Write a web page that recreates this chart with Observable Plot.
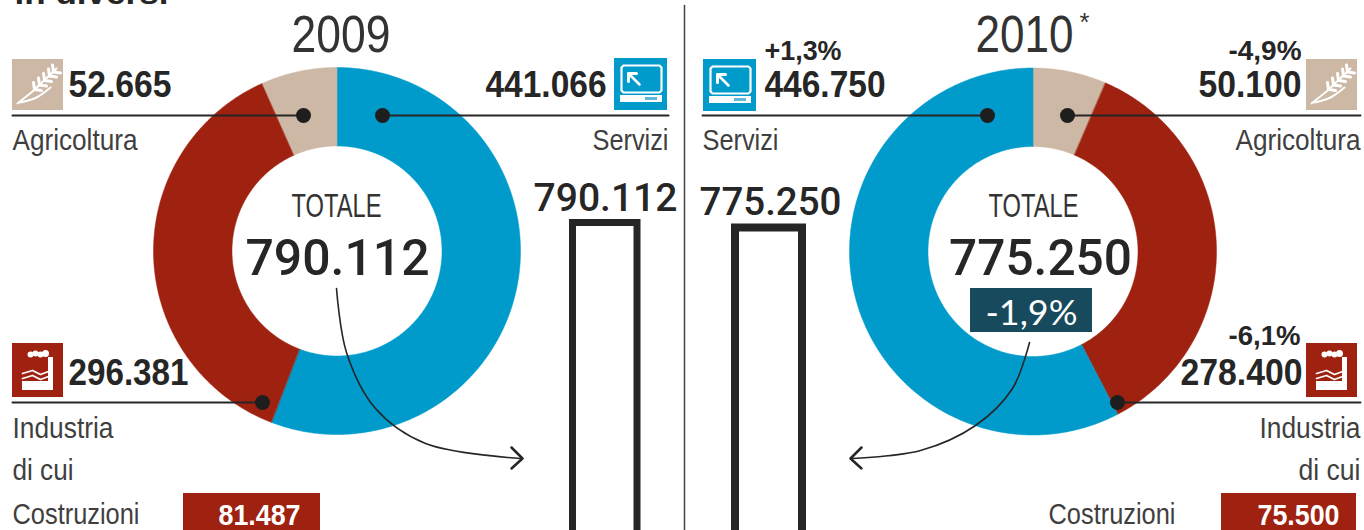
<!DOCTYPE html>
<html><head><meta charset="utf-8">
<script src="https://cdn.jsdelivr.net/npm/d3@7"></script>
<script src="https://cdn.jsdelivr.net/npm/@observablehq/plot@0.6"></script>
<style>
html,body{margin:0;padding:0;background:#fff;overflow:hidden}
svg{display:block}
</style>
</head><body><script>
const sectors = ["Servizi", "Industria", "Agricoltura"];
const values2009 = [441066, 296381, 52665];
const values2010 = [446750, 278400, 50100];
const changes2010 = ["+1,3%", "-6,1%", "-4,9%"];
const totals = [790112, 775250];
const costruzioni = [81487, 75500];
const totalChange = "-1,9%";
const years = ["2009", "2010"];
const sliceColors = ["#009bcb", "#9f2110", "#cdb8a5"];

const it = d3.format(",");
const fmt = v => it(v).replace(/,/g, ".");
const ink = "#262626", grey = "#3f3f3f";
const sans = "'Liberation Sans',sans-serif";

function slicePoints(cx, cy, R, r, value, before, total, rot) {
  const a0 = (before / total) * 360 + rot, a1 = ((before + value) / total) * 360 + rot;
  const n = Math.ceil(a1 - a0) * 2;
  const pts = [];
  const at = (a, q) => ({x: cx + q * Math.sin(a * Math.PI / 180), y: cy - q * Math.cos(a * Math.PI / 180)});
  for (let i = 0; i <= n; i++) pts.push(at(a0 + (a1 - a0) * i / n, R));
  for (let i = n; i >= 0; i--) pts.push(at(a0 + (a1 - a0) * i / n, r));
  return pts;
}
function donut(cx, cy, R, r, order, values, total, rot) {
  let before = 0;
  return order.map(i => {
    const m = Plot.line(slicePoints(cx, cy, R, r, values[i], before, total, rot),
      {x: "x", y: "y", curve: "linear-closed", fill: sliceColors[i], stroke: sliceColors[i], strokeWidth: .5});
    before += values[i];
    return m;
  });
}
// w is the width the text is condensed to (the reference uses a condensed face)
const T = (t, x, y, w, o = {}) => Plot.text([{t, x, y}], {
  x: "x", y: "y", text: "t", lineAnchor: "bottom", textAnchor: "start", dy: -1,
  fontFamily: sans, fontSize: 30, fill: grey, ariaLabel: () => "fit:" + w, ...o});
const num = (t, x, y, w, anchor = "start") => T(t, x, y, w, {fontSize: 36, fontWeight: 700, fill: ink, textAnchor: anchor});
const chg = (t, x, y, w) => T(t, x, y, w, {fontSize: 27, fontWeight: 700, fill: ink, textAnchor: "end"});
const lab = (t, x, y, w, anchor = "start") => T(t, x, y, w, {textAnchor: anchor});
const box = (x1, y1, x2, y2, fill) => Plot.rect([{x1, y1, x2, y2}], {x1: "x1", y1: "y1", x2: "x2", y2: "y2", fill});
const seg = (pts, o = {}) => Plot.line(pts.map(([x, y]) => ({x, y})), {x: "x", y: "y", stroke: "#262626", strokeWidth: 2, ...o});
const dot = (x, y) => Plot.dot([{x, y}], {x: "x", y: "y", r: 7.5, fill: "#1e1e1e", stroke: "none"});
const blob = (x, y, r, fill = "#fff") => Plot.dot([{x, y}], {x: "x", y: "y", r, fill, stroke: "none"});

function wheat(ox, oy) {
  const p = (x, y) => [ox + x, oy + y], w = {stroke: "#fff", strokeWidth: 2};
  const grains = [[22, 30], [27, 25.5], [32, 21], [37, 16.5], [41, 12.5]];
  return [
    box(ox, oy, ox + 51, oy + 51, sliceColors[2]),
    seg([p(5, 44), p(20, 32), p(44, 9)], w),
    seg([p(8, 43), p(24, 38), p(38, 28)], {...w, curve: "catmull-rom"}),
    ...grains.flatMap(([x, y]) => [
      seg([p(x, y), p(x - 1, y - 7)], {...w, strokeWidth: 3}),
      seg([p(x, y), p(x + 7, y + 1)], {...w, strokeWidth: 3})
    ])
  ];
}
function monitor(ox, oy) {
  const p = (x, y) => [ox + x, oy + y], w = {stroke: "#fff", strokeWidth: 2.2};
  return [
    box(ox, oy, ox + 53, oy + 52, sliceColors[0]),
    seg([p(9, 7), p(45, 7), p(47, 9), p(47, 32), p(45, 34), p(9, 34), p(7, 32), p(7, 9), p(9, 7)], w),
    seg([p(14, 15), p(25, 26)], {...w, strokeWidth: 2.5}),
    seg([p(14, 23), p(14, 15), p(22, 15)], {...w, strokeWidth: 3}),
    box(ox + 6, oy + 37, ox + 48, oy + 44, "#fff"),
    box(ox + 31, oy + 39, ox + 43, oy + 42, "#5fb9dc")
  ];
}
function factory(ox, oy) {
  const p = (x, y) => [ox + x, oy + y], w = {stroke: "#fff", strokeWidth: 1.8};
  return [
    box(ox, oy, ox + 51, oy + 54, sliceColors[1]),
    box(ox + 10, oy + 38, ox + 41, oy + 47, "#fff"),
    box(ox + 36, oy + 14, ox + 41, oy + 47, "#fff"),
    blob(ox + 18, oy + 11, 3), blob(ox + 23, oy + 10, 3), blob(ox + 28, oy + 11, 3), blob(ox + 33, oy + 10, 3.5),
    seg([p(10, 30), p(20, 27), p(28, 31), p(36, 28)], w),
    seg([p(10, 35), p(20, 32), p(28, 36), p(36, 33)], w)
  ];
}
function outlineBar(x1, x2, total, strokeWidth) {
  const top = 222.5 + (totals[0] - total) * 5 / (totals[0] - totals[1]);
  return Plot.rect([{x1, x2, y1: top, y2: 560}], {x1: "x1", x2: "x2", y1: "y1", y2: "y2", fill: "none", stroke: "#262626", strokeWidth});
}

const plot = Plot.plot({
  width: 1364, height: 530, margin: 0,
  x: {domain: [0, 1364], range: [0, 1364], axis: null},
  y: {domain: [0, 530], range: [0, 530], axis: null},
  style: {background: "#fff"},
  marks: [
    T("in diversi", 14, 4, 154, {fontSize: 32, fontWeight: 700, fill: ink}),
    seg([[684, 5], [684, 530]], {stroke: "#444", strokeWidth: 1.5}),

    ...donut(336.5, 250.5, 183.5, 105, [0, 1, 2], values2009, totals[0], 0),
    ...donut(1032.5, 251, 183.5, 105, [2, 1, 0], values2010, totals[1], 0),

    T(years[0], 340.5, 52, 99, {fontSize: 52, textAnchor: "middle", fill: "#333"}),
    T(years[1], 1024, 52, 98, {fontSize: 52, textAnchor: "middle", fill: "#333"}),
    T("*", 1084, 31, 10, {fontSize: 26, textAnchor: "middle", fill: "#333"}),

    // left panel
    ...wheat(12, 59), num(fmt(values2009[2]), 68, 97, 103),
    seg([[12, 115], [303, 115]]), dot(303, 115), lab(sectors[2], 12, 150, 125),
    ...monitor(614, 58), num(fmt(values2009[0]), 606, 97, 121, "end"),
    seg([[382, 115], [668, 115]]), dot(382, 115), lab(sectors[0], 668, 150, 76, "end"),
    ...factory(12, 343), num(fmt(values2009[1]), 68, 385, 120),
    seg([[12, 402], [262, 402]]), dot(262, 402),
    lab(sectors[1], 12, 438, 101), lab("di cui", 12, 480, 61), lab("Costruzioni", 12, 524, 127),
    box(183, 493, 320, 530, sliceColors[1]),
    T(fmt(costruzioni[0]), 259, 525, 82, {fontSize: 29, fontWeight: 700, fill: "#fff", textAnchor: "middle"}),

    // right panel
    ...monitor(703, 59), chg(changes2010[0], 841, 60, 77), num(fmt(values2010[0]), 764, 97, 121),
    seg([[702, 115], [987, 115]]), dot(987, 115), lab(sectors[0], 702, 150, 76),
    ...wheat(1306, 59), chg(changes2010[2], 1301, 60, 73), num(fmt(values2010[2]), 1301, 97, 103, "end"),
    seg([[1067, 115], [1360, 115]]), dot(1067, 115), lab(sectors[2], 1360, 150, 125, "end"),
    ...factory(1306, 343), chg(changes2010[1], 1300, 345, 72), num(fmt(values2010[1]), 1302, 385, 122, "end"),
    seg([[1117, 402], [1360, 402]]), dot(1117, 402),
    lab(sectors[1], 1360, 438, 101, "end"), lab("di cui", 1360, 480, 62, "end"), lab("Costruzioni", 1048, 524, 127),
    box(1221, 493, 1356, 530, sliceColors[1]),
    T(fmt(costruzioni[1]), 1298, 525, 82, {fontSize: 29, fontWeight: 700, fill: "#fff", textAnchor: "middle"}),

    // totals in the rings
    T("TOTALE", 336, 217, 90, {fontSize: 33, textAnchor: "middle", fill: "#333"}),
    T(fmt(totals[0]), 337, 275, 184, {fontFamily: "Roboto", fontSize: 50, fontWeight: 500, fill: ink, textAnchor: "middle"}),
    T("TOTALE", 1033, 217, 90, {fontSize: 33, textAnchor: "middle", fill: "#333"}),
    T(fmt(totals[1]), 1040, 275, 183, {fontFamily: "Roboto", fontSize: 50, fontWeight: 500, fill: ink, textAnchor: "middle"}),
    box(970, 288, 1092, 332, "#174a5c"),
    T(totalChange, 1031, 325, 92, {fontFamily: "Lato", fontSize: 35, fill: "#fff", textAnchor: "middle"}),

    // outlined columns
    outlineBar(572.5, 637, totals[0], 7),
    outlineBar(735, 802, totals[1], 8),
    T(fmt(totals[0]), 605, 211, 144, {fontFamily: "Roboto", fontSize: 39, fontWeight: 500, fill: ink, textAnchor: "middle"}),
    T(fmt(totals[1]), 770, 215, 142, {fontFamily: "Roboto", fontSize: 39, fontWeight: 500, fill: ink, textAnchor: "middle"}),

    // curved arrows
    seg([[336, 288], [346, 352], [375, 408], [425, 443], [520, 458]], {curve: "catmull-rom", strokeWidth: 1.6}),
    seg([[511, 447], [522, 458], [511, 468]], {strokeWidth: 2.5}),
    seg([[1029, 342], [1012, 388], [975, 425], [920, 450], [852, 458]], {curve: "catmull-rom", strokeWidth: 1.6}),
    seg([[861, 447], [850, 458], [861, 468]], {strokeWidth: 2.5})
  ]
});
d3.select(plot).selectAll('text[aria-label^="fit:"]').each(function () {
  const w = this.getAttribute("aria-label").slice(4);
  d3.select(this).attr("textLength", w).attr("lengthAdjust", "spacingAndGlyphs").attr("aria-label", null);
});
document.body.appendChild(plot);
</script></body></html>
